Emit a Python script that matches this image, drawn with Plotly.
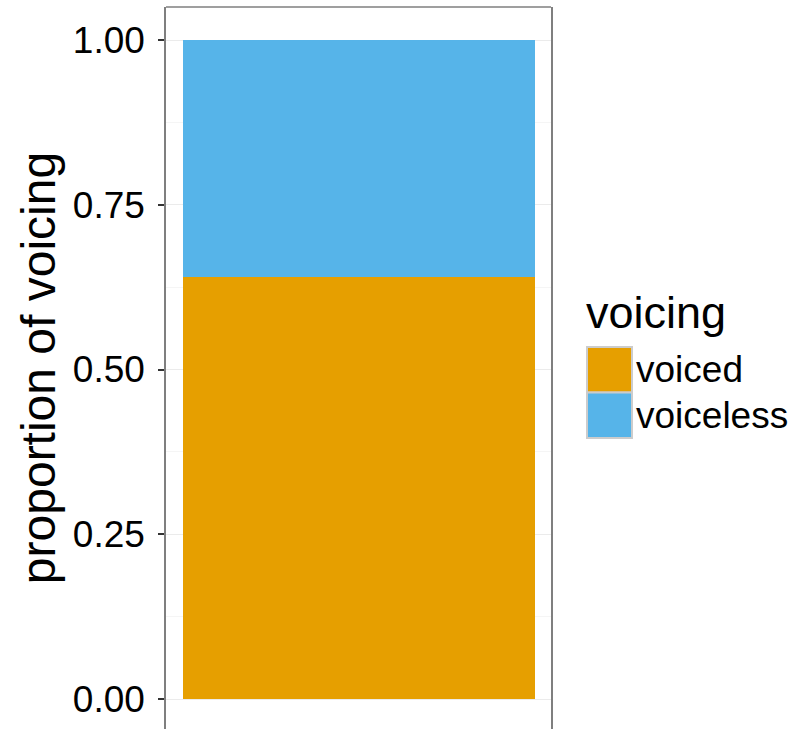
import plotly.graph_objects as go

# ---- data ----
groups = ["voiced", "voiceless"]
proportions = [0.641, 0.359]
colors = ["#E69F00", "#56B4E9"]
y_ticks = [0, 0.25, 0.5, 0.75, 1.0]
y_tick_labels = ["0.00", "0.25", "0.50", "0.75", "1.00"]
legend_title = "voicing"
y_title = "proportion of voicing"

W, H = 796, 729
L, R, T, B = 166, 551, 7, 729  # panel pixel box
FONT = "Liberation Sans, Arial, Helvetica, sans-serif"


def pxx(x):
    return (x - L) / (R - L)


def pxy(y):
    return (B - y) / (B - T)


fig = go.Figure()
for g, p, c in zip(groups, proportions, colors):
    fig.add_trace(go.Bar(x=[0], y=[p], name=g, width=0.9,
                         marker=dict(color=c, line=dict(width=0)),
                         showlegend=False))

fig.update_layout(
    width=W, height=H, barmode="stack",
    margin=dict(l=L, r=W - R, t=T, b=H - B, pad=0),
    paper_bgcolor="white", plot_bgcolor="white",
    font=dict(family=FONT, color="black"),
    xaxis=dict(range=[-0.4935, 0.491], showticklabels=False, showgrid=False,
               zeroline=False, ticks="", showline=False, fixedrange=True),
    yaxis=dict(range=[-0.0455, 1.0501], tickvals=y_ticks, ticktext=y_tick_labels,
               ticks="outside", ticklen=6, tickwidth=1.5, tickcolor="#333333",
               tickfont=dict(size=37, color="black", family=FONT),
               ticklabelstandoff=6,
               showgrid=True, gridcolor="#ebebeb", gridwidth=1.2,
               minor=dict(dtick=0.125, tick0=0, showgrid=True, gridcolor="#f5f5f5", gridwidth=1, ticks=""),
               zeroline=False, showline=True, mirror=True, linecolor="#7f7f7f", linewidth=1.5,
               title=dict(text=y_title, font=dict(size=48, family=FONT, color="black"), standoff=2)),
    showlegend=False,
)

# top border of panel
fig.add_shape(type="line", xref="paper", yref="paper", x0=0, x1=1, y0=1, y1=1,
              line=dict(color="#7f7f7f", width=1.5))

# manual legend (ggplot style)
key_x0, key_x1 = 587, 632
key_top = 347
key_h = 45.5
fig.add_annotation(text=legend_title, xref="paper", yref="paper", x=pxx(584), y=pxy(313),
                   xanchor="left", yanchor="middle", showarrow=False,
                   font=dict(size=45, family=FONT, color="black"))
for i, (g, c) in enumerate(zip(groups, colors)):
    y0 = key_top + i * key_h
    y1 = y0 + key_h
    fig.add_shape(type="rect", xref="paper", yref="paper",
                  x0=pxx(key_x0), x1=pxx(key_x1), y0=pxy(y1), y1=pxy(y0),
                  fillcolor=c, line=dict(color="#cccccc", width=2))
    fig.add_annotation(text=g, xref="paper", yref="paper", x=pxx(634), y=pxy((y0 + y1) / 2),
                       xanchor="left", yanchor="middle", showarrow=False,
                       font=dict(size=37, family=FONT, color="black"))

fig.write_html("out.html", config={"displayModeBar": False},
               post_script="document.body.style.margin='0';")
